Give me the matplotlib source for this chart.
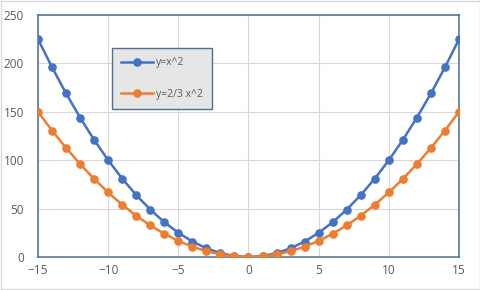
import matplotlib.pyplot as plt
from matplotlib.patches import Rectangle

x = [-15, -14, -13, -12, -11, -10, -9, -8, -7, -6, -5, -4, -3, -2, -1, 0,
     1, 2, 3, 4, 5, 6, 7, 8, 9, 10, 11, 12, 13, 14, 15]
y_sq = [225, 196, 169, 144, 121, 100, 81, 64, 49, 36, 25, 16, 9, 4, 1, 0,
        1, 4, 9, 16, 25, 36, 49, 64, 81, 100, 121, 144, 169, 196, 225]
y_23 = [150, 130.67, 112.67, 96, 80.67, 66.67, 54, 42.67, 32.67, 24, 16.67, 10.67, 6, 2.67, 0.67, 0,
        0.67, 2.67, 6, 10.67, 16.67, 24, 32.67, 42.67, 54, 66.67, 80.67, 96, 112.67, 130.67, 150]
labels = ['y=x^2', 'y=2/3 x^2']
x_ticks = [-15, -10, -5, 0, 5, 10, 15]
y_ticks = [0, 50, 100, 150, 200, 250]

BLUE = '#4472C4'
ORANGE = '#ED7D31'
FRAME = '#4F6D8F'

plt.rcParams['font.family'] = ['Open Sans', 'DejaVu Sans']

fig = plt.figure(figsize=(4.81, 2.90), dpi=100)
ax = fig.add_axes([38/481, 33/290, 421/481, 242/290])

ax.plot(x, y_sq, color=BLUE, lw=1.8, marker='o', ms=5.2, label=labels[0], zorder=3)
ax.plot(x, y_23, color=ORANGE, lw=1.8, marker='o', ms=5.2, label=labels[1], zorder=3)

ax.set_xlim(-15, 15)
ax.set_ylim(0, 250)
ax.set_xticks(x_ticks)
ax.set_yticks(y_ticks)
ax.grid(True, color='#D9D9D9', lw=0.8)
ax.set_axisbelow(True)
for s in ax.spines.values():
    s.set_color(FRAME)
    s.set_linewidth(1.1)
ax.tick_params(length=0, labelsize=8.5, colors='#595959', pad=5)
ax.tick_params(axis='y', pad=10)

leg = ax.legend(loc='upper left', bbox_to_anchor=(0.176, 0.864), borderaxespad=0,
                fontsize=7.5, labelspacing=2.0, handlelength=3.0, handletextpad=0.3,
                borderpad=0.9, fancybox=False, framealpha=1)
leg.get_frame().set_facecolor('#E7E6E6')
leg.get_frame().set_edgecolor(FRAME)
leg.get_frame().set_linewidth(1.0)
for t in leg.get_texts():
    t.set_color('#595959')

fig.patches.append(Rectangle((0.002, 0.003), 0.996, 0.994, transform=fig.transFigure,
                             fill=False, edgecolor='#D9D9D9', lw=1))

fig.savefig('out.png', dpi=100)
